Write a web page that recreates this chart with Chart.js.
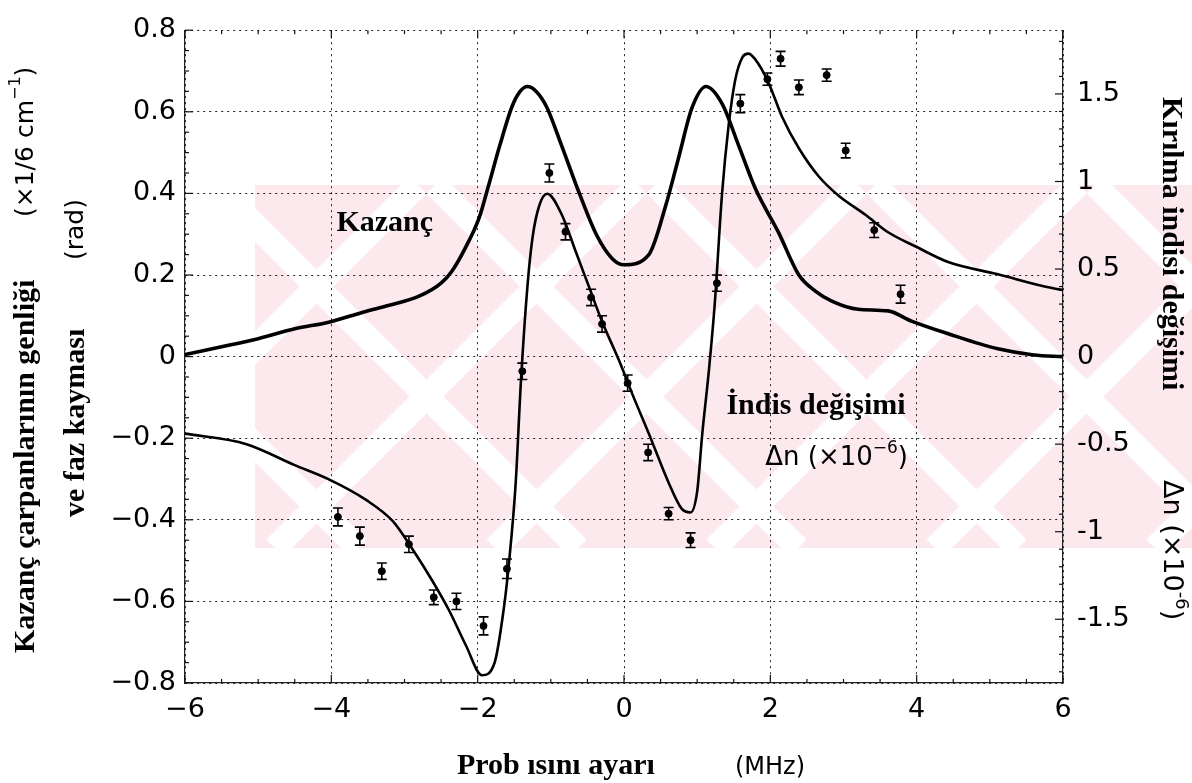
<!DOCTYPE html>
<html><head><meta charset="utf-8">
<script src="https://cdn.jsdelivr.net/npm/chart.js@4.4.1/dist/chart.umd.min.js"></script>
<style>html,body{margin:0;padding:0;background:#fff;}</style>
</head><body>
<canvas id="c" width="1192" height="783"></canvas>
<script>
// ---- data ----
const gainX = [-6, -5.5, -5, -4.5, -4.02, -3.6, -3.25, -2.8, -2.5, -2.35, -2.17, -1.98, -1.85, -1.7, -1.53, -1.42, -1.32, -1.2, -1.06, -0.85, -0.61, -0.38, -0.16, 0, 0.34, 0.57, 0.75, 0.93, 1.12, 1.34, 1.57, 1.8, 2.11, 2.39, 2.62, 2.84, 3.2, 3.61, 3.93, 4.43, 5.11, 5.6, 6];
const gainY = [0.005, 0.024, 0.044, 0.068, 0.085, 0.107, 0.124, 0.148, 0.18, 0.21, 0.266, 0.34, 0.42, 0.516, 0.613, 0.65, 0.662, 0.65, 0.613, 0.516, 0.40, 0.30, 0.24, 0.225, 0.25, 0.37, 0.49, 0.61, 0.662, 0.62, 0.516, 0.41, 0.305, 0.20, 0.16, 0.136, 0.116, 0.112, 0.087, 0.056, 0.019, 0.004, 0];

const dnX = [-6, -5.16, -4.5, -4.04, -3.52, -3.16, -2.89, -2.62, -2.39, -2.16, -1.94, -1.77, -1.64, -1.57, -1.48, -1.41, -1.32, -1.25, -1.16, -1.05, -0.85, -0.66, -0.48, -0.30, -0.07, 0.11, 0.34, 0.61, 0.79, 0.91, 1.0, 1.07, 1.16, 1.24, 1.34, 1.43, 1.52, 1.62, 1.70, 1.84, 1.98, 2.16, 2.39, 2.66, 2.93, 3.30, 3.61, 3.98, 4.43, 5.11, 5.75, 6];
const dnY = [-0.44, -0.50, -0.62, -0.70, -0.82, -0.94, -1.10, -1.28, -1.45, -1.65, -1.82, -1.75, -1.43, -1.17, -0.72, -0.15, 0.40, 0.68, 0.86, 0.93, 0.81, 0.60, 0.40, 0.20, -0.02, -0.21, -0.44, -0.72, -0.87, -0.89, -0.77, -0.44, -0.08, 0.30, 0.93, 1.32, 1.58, 1.71, 1.73, 1.67, 1.56, 1.37, 1.19, 1.03, 0.92, 0.81, 0.71, 0.63, 0.54, 0.47, 0.40, 0.38];

const ptX = [-3.91, -3.61, -3.31, -2.94, -2.60, -2.29, -1.92, -1.60, -1.39, -1.02, -0.80, -0.45, -0.30, 0.05, 0.33, 0.61, 0.91, 1.27, 1.59, 1.96, 2.14, 2.39, 2.77, 3.03, 3.42, 3.78];
const ptY = [-0.393, -0.44, -0.526, -0.46, -0.59, -0.60, -0.66, -0.52, -0.036, 0.45, 0.306, 0.145, 0.08, -0.065, -0.235, -0.385, -0.45, 0.18, 0.62, 0.68, 0.73, 0.66, 0.69, 0.505, 0.31, 0.153];
const ptErr = [0.022, 0.022, 0.02, 0.02, 0.018, 0.02, 0.022, 0.024, 0.02, 0.022, 0.02, 0.02, 0.02, 0.02, 0.02, 0.015, 0.018, 0.02, 0.022, 0.015, 0.018, 0.018, 0.015, 0.018, 0.018, 0.022];

const xTicks = [-6, -4, -2, 0, 2, 4, 6];
const xTickLabels = ['\u22126', '\u22124', '\u22122', '0', '2', '4', '6'];
const yTicks = [-0.8, -0.6, -0.4, -0.2, 0, 0.2, 0.4, 0.6, 0.8];
const yTickLabels = ['\u22120.8', '\u22120.6', '\u22120.4', '\u22120.2', '0', '0.2', '0.4', '0.6', '0.8'];
const y1Ticks = [-1.5, -1, -0.5, 0, 0.5, 1, 1.5];
const y1TickLabels = ['-1.5', '-1', '-0.5', '0', '0.5', '1', '1.5'];

const SERIF = 'bold 30px "Liberation Serif", "DejaVu Serif", serif';
const SANS = '"DejaVu Sans", sans-serif';

function lab(vals, labels, v){ const i = vals.findIndex(t => Math.abs(t - v) < 1e-6); return i >= 0 ? labels[i] : ''; }
const pts = (xs, ys) => xs.map((x, i) => ({x, y: ys[i]}));

function rich(ctx, parts){
  let x = 0;
  for (const p of parts){
    ctx.font = p.f;
    ctx.fillText(p.t, x, p.dy || 0);
    x += ctx.measureText(p.t).width;
  }
}

// faint background watermark band of the scanned page
const watermark = {
  id: 'wm',
  beforeDraw(chart){
    const ctx = chart.ctx;
    ctx.save();
    ctx.fillStyle = '#fff';
    ctx.fillRect(0, 0, chart.width, chart.height);
    const top = 185, bot = 548, left = 255, right = chart.width;
    const h = bot - top;
    ctx.beginPath(); ctx.rect(left, top, right - left, h); ctx.clip();
    ctx.fillStyle = 'rgb(252,233,238)';
    ctx.fillRect(left, top, right - left, h);
    ctx.strokeStyle = '#fff'; ctx.lineWidth = 24;
    for (let k = -700; k < 1400; k += 220){
      ctx.beginPath(); ctx.moveTo(left + k, top); ctx.lineTo(left + k + h, bot); ctx.stroke();
      ctx.beginPath(); ctx.moveTo(left + k + 60, bot); ctx.lineTo(left + k + 60 + h, top); ctx.stroke();
    }
    ctx.restore();
  }
};

const minorTicks = {
  id: 'minor',
  afterDatasetsDraw(chart){
    const {ctx, chartArea: a, scales} = chart;
    ctx.save(); ctx.strokeStyle = '#111'; ctx.lineWidth = 1.2;
    for (let i = -16; i <= 16; i++){
      const p = scales.y.getPixelForValue(i * 0.05), L = (i % 4 === 0) ? 8 : 4;
      ctx.beginPath(); ctx.moveTo(a.left, p); ctx.lineTo(a.left + L, p); ctx.stroke();
    }
    for (let i = -18; i <= 18; i++){
      const p = scales.y1.getPixelForValue(i * 0.1), L = (i % 5 === 0) ? 8 : 4;
      ctx.beginPath(); ctx.moveTo(a.right, p); ctx.lineTo(a.right - L, p); ctx.stroke();
    }
    for (let i = -12; i <= 12; i++){
      const p = scales.x.getPixelForValue(i * 0.5), L = (i % 4 === 0) ? 8 : 4;
      ctx.beginPath(); ctx.moveTo(p, a.bottom); ctx.lineTo(p, a.bottom - L); ctx.stroke();
      ctx.beginPath(); ctx.moveTo(p, a.top); ctx.lineTo(p, a.top + L); ctx.stroke();
    }
    ctx.restore();
  }
};

const errorBars = {
  id: 'err',
  afterDatasetsDraw(chart){
    const {ctx, scales} = chart;
    ctx.save(); ctx.strokeStyle = '#000'; ctx.lineWidth = 1.6;
    ptX.forEach((x, i) => {
      const px = scales.x.getPixelForValue(x);
      const t = scales.y.getPixelForValue(ptY[i] + ptErr[i]);
      const b = scales.y.getPixelForValue(ptY[i] - ptErr[i]);
      ctx.beginPath();
      ctx.moveTo(px, t); ctx.lineTo(px, b);
      ctx.moveTo(px - 5, t); ctx.lineTo(px + 5, t);
      ctx.moveTo(px - 5, b); ctx.lineTo(px + 5, b);
      ctx.stroke();
    });
    ctx.restore();
  }
};

const texts = {
  id: 'texts',
  afterDraw(chart){
    const {ctx, scales} = chart;
    ctx.save();
    ctx.fillStyle = '#000';
    ctx.textBaseline = 'middle'; ctx.textAlign = 'left';
    // left titles
    ctx.save(); ctx.translate(26, 653); ctx.rotate(-Math.PI / 2);
    rich(ctx, [{t: 'Kazanç çarpanlarının genliği', f: SERIF}]);
    ctx.translate(436, 0);
    rich(ctx, [{t: '(×1/6 cm', f: '25px ' + SANS}, {t: '\u22121', f: '16px ' + SANS, dy: -10}, {t: ')', f: '25px ' + SANS}]);
    ctx.restore();
    ctx.save(); ctx.translate(76, 517); ctx.rotate(-Math.PI / 2);
    rich(ctx, [{t: 've faz kayması', f: SERIF}]);
    ctx.translate(257, 0);
    rich(ctx, [{t: '(rad)', f: '25px ' + SANS}]);
    ctx.restore();
    // right titles
    ctx.save(); ctx.translate(1171, 97); ctx.rotate(Math.PI / 2);
    rich(ctx, [{t: 'Kırılma indisi değişimi', f: SERIF}]);
    ctx.translate(383, 0);
    rich(ctx, [{t: 'Δn (×10', f: '27px ' + SANS}, {t: '-6', f: '18px ' + SANS, dy: -10}, {t: ')', f: '27px ' + SANS}]);
    ctx.restore();
    // bottom title
    ctx.save(); ctx.translate(457, 766);
    rich(ctx, [{t: 'Prob ısını ayarı', f: SERIF}]);
    ctx.restore();
    ctx.save(); ctx.translate(735, 768);
    rich(ctx, [{t: '(MHz)', f: '24px ' + SANS}]);
    ctx.restore();
    // in-plot labels (anchored in data coordinates)
    ctx.save(); ctx.translate(scales.x.getPixelForValue(-3.93), scales.y.getPixelForValue(0.327));
    rich(ctx, [{t: 'Kazanç', f: SERIF}]);
    ctx.restore();
    ctx.save(); ctx.translate(scales.x.getPixelForValue(1.40), scales.y.getPixelForValue(-0.121));
    rich(ctx, [{t: 'İndis değişimi', f: SERIF}]);
    ctx.restore();
    ctx.save(); ctx.translate(scales.x.getPixelForValue(1.93), scales.y.getPixelForValue(-0.25));
    rich(ctx, [{t: 'Δn (×10', f: '26px ' + SANS}, {t: '\u22126', f: '17px ' + SANS, dy: -10}, {t: ')', f: '26px ' + SANS}]);
    ctx.restore();
    ctx.restore();
  }
};

const gridCommon = {color: '#222', lineWidth: 1, drawTicks: false};
const borderCommon = {display: true, color: '#222', width: 1.2, dash: [2, 4]};

new Chart(document.getElementById('c'), {
  data: {
    datasets: [
      {type: 'line', label: 'Kazanç', data: pts(gainX, gainY), yAxisID: 'y', borderColor: '#000', borderWidth: 3.6, pointRadius: 0, cubicInterpolationMode: 'monotone', fill: false},
      {type: 'line', label: 'İndis değişimi', data: pts(dnX, dnY), yAxisID: 'y1', borderColor: '#000', borderWidth: 2.6, pointRadius: 0, cubicInterpolationMode: 'monotone', fill: false},
      {type: 'scatter', label: 'Ölçüm', data: pts(ptX, ptY), yAxisID: 'y', pointRadius: 3.5, pointBackgroundColor: '#000', pointBorderColor: '#000'}
    ]
  },
  options: {
    responsive: false, animation: false, devicePixelRatio: 1,
    layout: {padding: {top: 23, left: 0, right: 0, bottom: 0}},
    plugins: {legend: {display: false}, tooltip: {enabled: false}},
    scales: {
      x: {
        type: 'linear', min: -6, max: 6,
        afterBuildTicks: s => { s.ticks = xTicks.map(v => ({value: v})); },
        afterFit: s => { s.height = 100; },
        ticks: {callback: v => lab(xTicks, xTickLabels, v), color: '#000', font: {family: 'DejaVu Sans', size: 27}, padding: 11, maxRotation: 0, autoSkip: false},
        grid: gridCommon, border: borderCommon
      },
      y: {
        type: 'linear', position: 'left', min: -0.8, max: 0.8,
        afterBuildTicks: s => { s.ticks = yTicks.map(v => ({value: v})); },
        afterFit: s => { s.width = 185; },
        ticks: {callback: v => lab(yTicks, yTickLabels, v), color: '#000', font: {family: 'DejaVu Sans', size: 27}, padding: 9, autoSkip: false},
        grid: gridCommon, border: borderCommon
      },
      y1: {
        type: 'linear', position: 'right', min: -1.864, max: 1.864,
        afterBuildTicks: s => { s.ticks = y1Ticks.map(v => ({value: v})); },
        afterFit: s => { s.width = 129; },
        ticks: {callback: v => lab(y1Ticks, y1TickLabels, v), color: '#000', font: {family: 'DejaVu Sans', size: 27}, padding: 14, autoSkip: false},
        grid: {drawOnChartArea: false, drawTicks: false}, border: {display: true, color: '#222', width: 1.2}
      }
    }
  },
  plugins: [watermark, errorBars, minorTicks, texts]
});
</script>
</body></html>
